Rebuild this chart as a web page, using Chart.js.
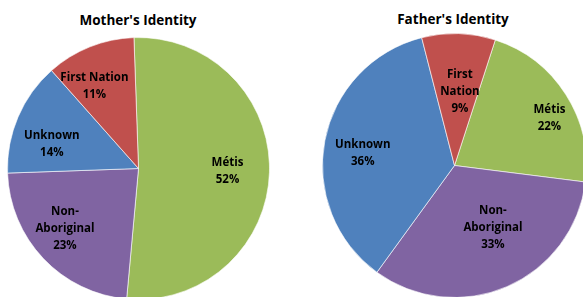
<!DOCTYPE html>
<html><head><meta charset="utf-8">
<script src="https://cdn.jsdelivr.net/npm/chart.js@4/dist/chart.umd.min.js"></script>
<style>
html,body{margin:0;padding:0;width:583px;height:297px;overflow:hidden;background:#fff;}
.t{position:absolute;font-family:"Open Sans",Lato,sans-serif;font-weight:bold;font-size:13.5px;color:#000;text-align:center;line-height:16px;}
.c{position:absolute;}
</style></head><body>
<div class="t" style="left:38px;width:200px;top:12px">Mother's Identity</div>
<div class="t" style="left:353px;width:200px;top:11px">Father's Identity</div>
<div class="c" style="left:7px;top:37px;width:263px;height:263px"><canvas id="m"></canvas></div>
<div class="c" style="left:322px;top:33px;width:265px;height:265px"><canvas id="f"></canvas></div>
<script>
const categories = ["Métis", "Non-Aboriginal", "Unknown", "First Nation"];
const motherValues = [52, 23, 14, 11];
const fatherValues = [22, 33, 36, 9];
const sliceColors = ["#9BBB59", "#8064A2", "#4F81BD", "#C0504D"];

const pieLabels = {
  id: 'pieLabels',
  afterDatasetsDraw(chart, args, opts) {
    const ctx = chart.ctx;
    const meta = chart.getDatasetMeta(0);
    const data = chart.data.datasets[0].data;
    const total = data.reduce((a, b) => a + b, 0);
    ctx.save();
    ctx.font = 'bold 11.5px "Open Sans", Lato, sans-serif';
    ctx.fillStyle = '#000';
    ctx.textAlign = 'center';
    ctx.textBaseline = 'middle';
    meta.data.forEach((arc, i) => {
      const p = arc.getProps(['x', 'y', 'startAngle', 'endAngle', 'outerRadius'], true);
      const mid = (p.startAngle + p.endAngle) / 2;
      const fr = (opts.radiusFrac && opts.radiusFrac[i]) || 0.7;
      const nudge = (opts.nudge && opts.nudge[i]) || [0, 0];
      const cx = p.x + Math.cos(mid) * p.outerRadius * fr + nudge[0];
      const cy = p.y + Math.sin(mid) * p.outerRadius * fr + nudge[1];
      const words = chart.data.labels[i].replace(/-/g, '- ').split(' ').filter(Boolean);
      const lines = [];
      let cur = '';
      words.forEach(w => {
        const sep = (cur === '' || cur.endsWith('-')) ? '' : ' ';
        const test = cur + sep + w;
        if (cur !== '' && ctx.measureText(test).width > opts.maxWidth) {
          lines.push(cur); cur = w;
        } else cur = test;
      });
      if (cur) lines.push(cur);
      lines.push(Math.round(data[i] / total * 100) + '%');
      const lh = 17;
      const y0 = cy - (lines.length - 1) * lh / 2;
      lines.forEach((l, k) => ctx.fillText(l, cx, y0 + k * lh));
    });
    ctx.restore();
  }
};

function makePie(id, values, rotation, labelOpts) {
  return new Chart(document.getElementById(id), {
    type: 'pie',
    data: {
      labels: categories,
      datasets: [{
        data: values,
        backgroundColor: sliceColors,
        borderColor: 'rgba(255,255,255,0.6)',
        borderWidth: 1
      }]
    },
    options: {
      responsive: true,
      maintainAspectRatio: false,
      animation: false,
      rotation: rotation,
      layout: { padding: 0 },
      plugins: {
        legend: { display: false },
        tooltip: { enabled: false },
        title: { display: false },
        pieLabels: labelOpts
      }
    },
    plugins: [pieLabels]
  });
}

makePie('m', motherValues, -2, { maxWidth: 72, radiusFrac: [0.68, 0.72, 0.72, 0.7], nudge: [[0, 0], [-5, -5], [0, 13], [-10, 3]] });
makePie('f', fatherValues, 18, { maxWidth: 50, radiusFrac: [0.78, 0.6, 0.7, 0.58], nudge: [[8, 8], [7, -10], [-1, 5], [3, 3]] });
</script>
</body></html>
